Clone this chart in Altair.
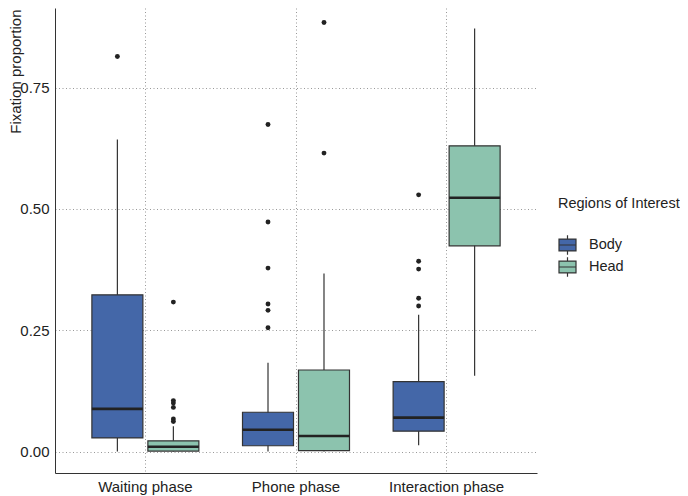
import altair as alt
import pandas as pd

phases = ["Waiting phase", "Phone phase", "Interaction phase"]
rois = ["Body", "Head"]

body_lower = [0.000, 0.000, 0.013]
body_q1 = [0.028, 0.012, 0.042]
body_med = [0.088, 0.045, 0.070]
body_q3 = [0.323, 0.081, 0.144]
body_upper = [0.643, 0.183, 0.282]

head_lower = [0.000, 0.000, 0.156]
head_q1 = [0.001, 0.002, 0.424]
head_med = [0.010, 0.032, 0.523]
head_q3 = [0.022, 0.168, 0.630]
head_upper = [0.052, 0.367, 0.872]

out_waiting_body = [0.814]
out_waiting_head = [0.308, 0.105, 0.100, 0.091, 0.067, 0.062]
out_phone_body = [0.674, 0.473, 0.378, 0.304, 0.291, 0.255]
out_phone_head = [0.884, 0.615]
out_inter_body = [0.529, 0.392, 0.376, 0.316, 0.300]
out_inter_head = []

colors = ["#4467a8", "#8cc3ae"]

rows = []
for i, p in enumerate(phases):
    rows.append(dict(phase=p, roi="Body", lo=body_lower[i], q1=body_q1[i],
                     med=body_med[i], q3=body_q3[i], hi=body_upper[i]))
    rows.append(dict(phase=p, roi="Head", lo=head_lower[i], q1=head_q1[i],
                     med=head_med[i], q3=head_q3[i], hi=head_upper[i]))
stats = pd.DataFrame(rows)

orow = []
for p, r, vals in [
    ("Waiting phase", "Body", out_waiting_body),
    ("Waiting phase", "Head", out_waiting_head),
    ("Phone phase", "Body", out_phone_body),
    ("Phone phase", "Head", out_phone_head),
    ("Interaction phase", "Body", out_inter_body),
    ("Interaction phase", "Head", out_inter_head),
]:
    for v in vals:
        orow.append(dict(phase=p, roi=r, val=v))
outl = pd.DataFrame(orow)

FONT = "Liberation Sans"

x_enc = alt.X(
    "phase:N", sort=phases, title=None,
    scale=alt.Scale(paddingInner=0, paddingOuter=0.1),
    axis=alt.Axis(labelAngle=0, labelFontSize=15, labelColor="#222", labelFont=FONT,
                  ticks=False, tickSize=0, labelPadding=6, domainColor="#333",
                  grid=True, gridDash=[1, 2.5], gridColor="#999", bandPosition=0.5),
)
xo_enc = alt.XOffset("roi:N", sort=rois,
                     scale=alt.Scale(paddingInner=0, paddingOuter=0.345))
y_scale = alt.Scale(domain=[-0.0442, 0.914], nice=False, zero=False)

y_axis = alt.Axis(values=[0, 0.25, 0.5, 0.75], format=".2f", labelFontSize=15,
                  labelColor="#222", labelFont=FONT, ticks=False, tickSize=0,
                  labelPadding=6, domainColor="#333", grid=True, gridDash=[1, 2.5],
                  gridColor="#999", title="Fixation proportion", titleFontSize=15,
                  titleFontWeight="normal", titleColor="#222", titleFont=FONT,
                  titleAngle=270, titleAlign="right", titleBaseline="alphabetic",
                  titleX=-35, titleY=1)

base = alt.Chart(stats)

whisk = base.mark_rule(color="#333", strokeWidth=1.2).encode(
    x=x_enc, xOffset=xo_enc,
    y=alt.Y("lo:Q", scale=y_scale, axis=y_axis),
    y2="hi:Q",
)

legend_path = "M-1,-0.7H1V0.7H-1Z M0,-0.7V-1.15 M0,0.7V1.15 M-1,0H1"

box = base.mark_bar(size=51, stroke="#333", strokeWidth=1.2, opacity=1).encode(
    x=x_enc, xOffset=xo_enc,
    y=alt.Y("q1:Q", scale=y_scale),
    y2="q3:Q",
    fill=alt.Fill("roi:N", sort=rois,
                  scale=alt.Scale(domain=rois, range=colors),
                  legend=alt.Legend(orient="none", legendX=503, legendY=189,
                                    title="Regions of Interest", titleFontSize=14.5,
                                    titleFontWeight="normal", titleColor="#222",
                                    titleFont=FONT, titlePadding=24,
                                    labelFontSize=14.5, labelColor="#222",
                                    labelFont=FONT, symbolType=legend_path,
                                    symbolSize=289, symbolStrokeColor="#333",
                                    symbolStrokeWidth=1.2, symbolOpacity=1,
                                    labelOffset=12, rowPadding=-4, padding=0)),
)

med = base.mark_tick(size=51, thickness=2.6, color="#222", opacity=1).encode(
    x=x_enc, xOffset=xo_enc,
    y=alt.Y("med:Q", scale=y_scale),
)

pts = alt.Chart(outl).mark_circle(size=24, color="#222", opacity=1).encode(
    x=x_enc, xOffset=xo_enc,
    y=alt.Y("val:Q", scale=y_scale),
)

chart = alt.layer(whisk, box, med, pts).properties(
    width=482, height=465,
    autosize=alt.AutoSizeParams(type="none"),
    padding={"left": 47, "top": 0, "right": 143, "bottom": 23},
).configure(font=FONT).configure_view(stroke=None)

chart.save("out.html", embed_options={"renderer": "svg", "actions": False})
